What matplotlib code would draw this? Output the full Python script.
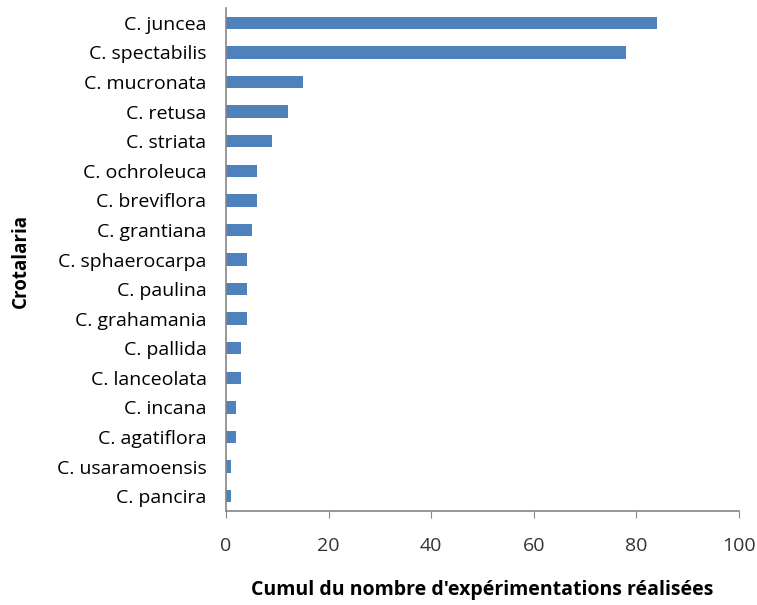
import matplotlib.pyplot as plt

species = [
    "C. juncea", "C. spectabilis", "C. mucronata", "C. retusa", "C. striata",
    "C. ochroleuca", "C. breviflora", "C. grantiana", "C. sphaerocarpa",
    "C. paulina", "C. grahamania", "C. pallida", "C. lanceolata",
    "C. incana", "C. agatiflora", "C. usaramoensis", "C. pancira",
]
counts = [84, 78, 15, 12, 9, 6, 6, 5, 4, 4, 4, 3, 3, 2, 2, 1, 1]
x_ticks = [0, 20, 40, 60, 80, 100]

plt.rcParams["font.family"] = ["Open Sans", "DejaVu Sans"]

fig = plt.figure(figsize=(7.57, 6.05), dpi=100)
ax = fig.add_axes([226 / 757, 1 - 511 / 605, (739 - 226) / 757, (511 - 8) / 605])

ypos = list(range(len(species)))
ax.barh(ypos, counts, height=0.42, color="#4f81bd")
ax.set_ylim(len(species) - 0.5, -0.5)
ax.set_xlim(0, 100)
ax.set_yticks(ypos)
ax.set_yticklabels(species, fontsize=14)
ax.set_xticks(x_ticks)
ax.set_xticklabels([str(v) for v in x_ticks], fontsize=14, color="#333333")

for side in ["top", "right"]:
    ax.spines[side].set_visible(False)
for side in ["left", "bottom"]:
    ax.spines[side].set_color("#868686")
    ax.spines[side].set_linewidth(1.2)

ax.tick_params(axis="y", length=0, pad=14)
ax.tick_params(axis="x", length=5, color="#868686", direction="out", pad=14)

ax.set_xlabel("Cumul du nombre d'expérimentations réalisées", fontsize=14,
              fontweight="bold", va="center")
ax.xaxis.set_label_coords(0.5, -0.157)
ax.set_ylabel("Crotalaria", fontsize=13.5, fontweight="bold", va="center")
ax.yaxis.set_label_coords(-0.40, 0.497)

fig.savefig("out.png", dpi=100)
